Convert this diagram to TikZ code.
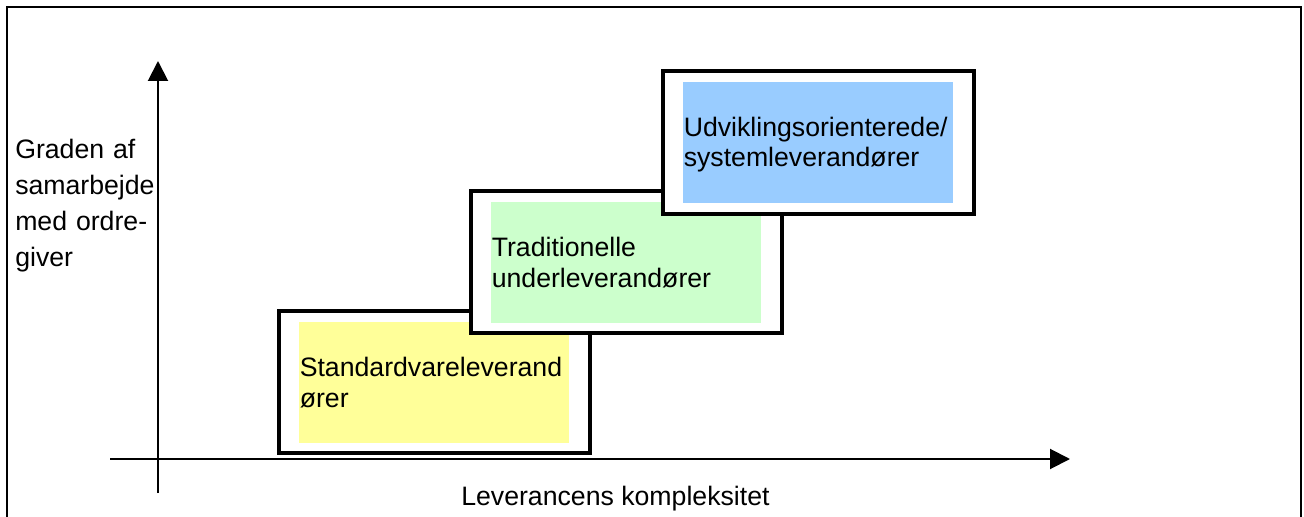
\documentclass[tikz,border=0pt]{standalone}
\usepackage{fontspec}
\setmainfont{Liberation Sans}
\usetikzlibrary{arrows.meta}
\definecolor{boxyellow}{HTML}{FFFF99}
\definecolor{boxgreen}{HTML}{CCFFCC}
\definecolor{boxblue}{HTML}{99CCFF}
\begin{document}
\begin{tikzpicture}[x=0.75pt,y=-0.75pt,
  frame/.style={draw=black,line width=3pt,fill=white},
  axis/.style={line width=1.5pt,-{Triangle[length=15pt,width=15pt]}},
  lbl/.style={inner sep=0pt,anchor=base west,align=left,font=\fontsize{20}{22.9}\selectfont},
  boxlbl/.style={lbl,text width=205pt}]
\useasboundingbox (0,0) rectangle (1304,517);
\draw[line width=1.5pt] (7,525) -- (7,7) -- (1301,7) -- (1301,525);
% axes
\coordinate (ybot) at (158,493);
\coordinate (ytop) at (158,61);
\coordinate (xleft) at (110,459);
\coordinate (xright) at (1070,459);
\draw[axis] (ybot) -- (ytop);
\draw[axis] (xleft) -- (xright);
% box 1
\path[frame] (279,311) rectangle (590,453);
\fill[boxyellow] (299,322) rectangle (569,443);
\node[boxlbl] (t1) at (299.5,376.7) {Standardvareleverand\\ører};
% box 2
\path[frame] (470.5,191.3) rectangle (782,332.5);
\fill[boxgreen] (491,202) rectangle (761,323);
\node[boxlbl] (t2) at (491.5,256.7) {Traditionelle\\underleverandører};
% box 3
\path[frame] (662.7,70.7) rectangle (973.7,213.7);
\fill[boxblue] (683,82) rectangle (953,203);
\node[boxlbl] (t3) at (683.5,136.3) {Udviklingsorienterede/\\systemleverandører};
% labels
\node[lbl,text width=130pt,font=\fontsize{20}{27.2}\selectfont] (ylab) at (15,158) {Graden af\\samarbejde\\med ordre-\\giver};
\node[lbl] (xlab) at (461,505) {Leverancens kompleksitet};
\end{tikzpicture}
\end{document}
